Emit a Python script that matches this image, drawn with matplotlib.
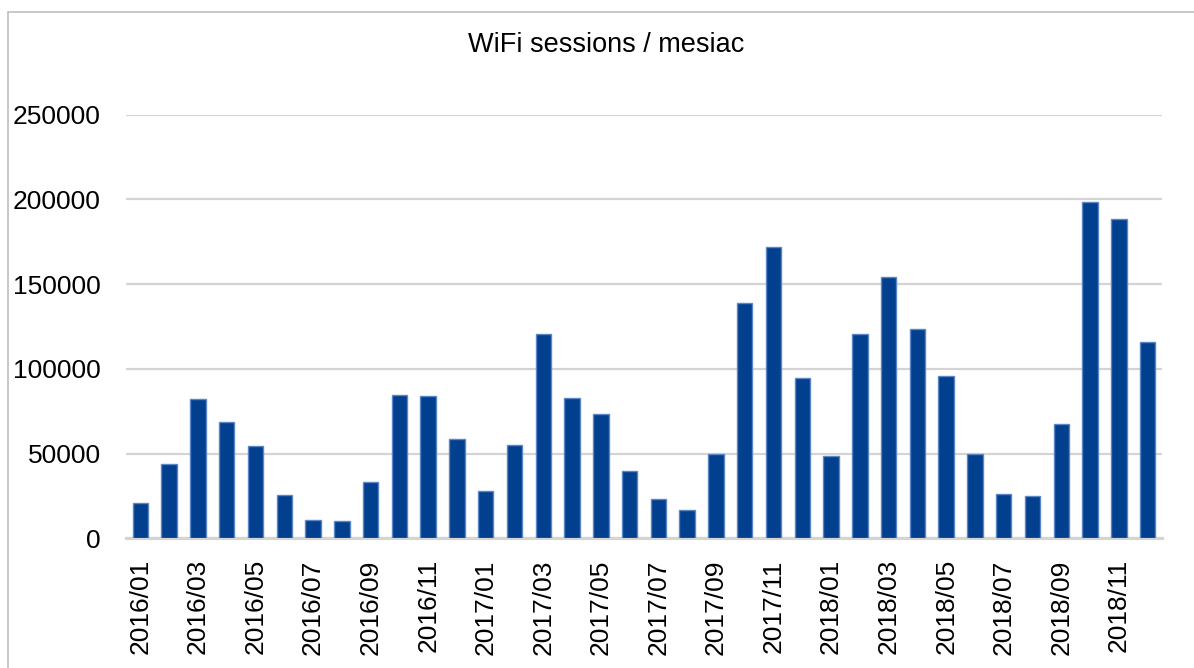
import matplotlib.pyplot as plt
from matplotlib.patches import Rectangle

# Monthly WiFi sessions, 2016/01 .. 2018/12
months = [f"{y}/{m:02d}" for y in (2016, 2017, 2018) for m in range(1, 13)]
sessions = [
    21000, 44000, 82200, 68700, 54300, 25700, 11000, 10200, 33400, 84400, 83800, 58400,
    27700, 54900, 120600, 82800, 73600, 39500, 23400, 16900, 49900, 139100, 172100, 94600,
    48400, 120600, 154400, 123400, 95800, 49600, 26000, 24800, 67500, 198300, 188500, 116100,
]
yticks = [0, 50000, 100000, 150000, 200000, 250000]

plt.rcParams['font.family'] = ['Liberation Sans', 'DejaVu Sans']

fig = plt.figure(figsize=(11.94, 6.68), dpi=100)
ax = fig.add_axes([126 / 1194, 1 - 538.3 / 668, (1162 - 126) / 1194, (538.3 - 114.7) / 668])

# outer chart frame
fig.patches.append(Rectangle((8 / 1194, -0.05), 1.1, 1 - 12 / 668 + 0.05, transform=fig.transFigure,
                             fill=False, edgecolor='#bfbfbf', linewidth=1.2))

x = list(range(len(months)))
ax.bar(x, sessions, width=0.54, color='#023f8e', edgecolor='#5b87c6', linewidth=1.0, zorder=3)

ax.set_xlim(-0.5, len(months) - 0.5)
ax.set_ylim(0, 250000)
ax.set_yticks(yticks)
ax.set_yticklabels([str(v) for v in yticks])
ax.set_xticks(x[::2])
ax.set_xticklabels(months[::2], rotation=90)
ax.tick_params(axis='both', length=0, labelsize=19, colors='#000000')
ax.tick_params(axis='y', pad=18)
ax.tick_params(axis='x', pad=15)

ax.grid(axis='y', color='#d4d4d4', linewidth=1.6, zorder=0)
for s in ('top', 'right', 'left'):
    ax.spines[s].set_visible(False)
ax.spines['bottom'].set_color('#d4d4d4')
ax.spines['bottom'].set_linewidth(2.2)

fig.text(606 / 1194, 1 - 45 / 668, "WiFi sessions / mesiac", ha='center', va='center', fontsize=19.5)

fig.savefig("out.png", dpi=100, facecolor='white')
